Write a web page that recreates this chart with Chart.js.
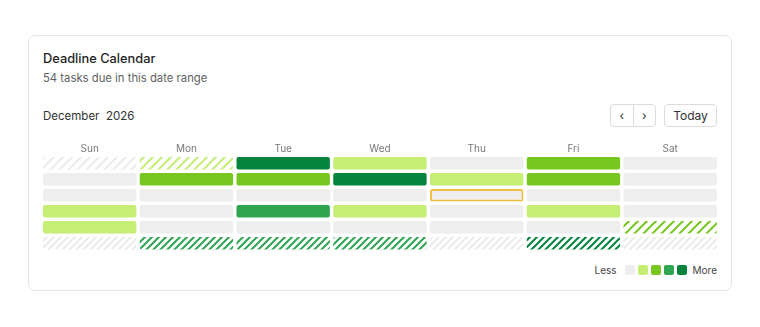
<!DOCTYPE html>
<html>
<head>
<meta charset="utf-8">
<script src="https://cdn.jsdelivr.net/npm/chart.js@4/dist/chart.umd.min.js"></script>
<style>
  html, body { margin: 0; padding: 0; background: #fff; }
  body { width: 760px; height: 327px; position: relative; font-family: Inter, "Noto Sans", sans-serif; overflow: hidden; }
  .card { position: absolute; left: 27.5px; top: 34.5px; width: 704px; height: 256px; border: 1px solid #e6e6e6; border-radius: 7px; box-sizing: border-box; }
  .title { position: absolute; left: 43px; top: 50px; font-size: 12.8px; font-weight: 500; color: #1f1f1f; line-height: 18px; }
  .sub { position: absolute; left: 43px; top: 70px; font-size: 11.3px; color: #5f5f5f; line-height: 16px; }
  .month { position: absolute; left: 43px; top: 108px; font-size: 11.5px; color: #333; line-height: 16px; white-space: pre; }
  .navgrp { position: absolute; left: 610px; top: 104px; width: 46px; height: 23px; border: 1px solid #dcdcdc; border-radius: 4px; box-sizing: border-box; display: flex; }
  .navgrp div { flex: 1; display: flex; align-items: center; justify-content: center; font-size: 12px; color: #333; }
  .navgrp div + div { border-left: 1px solid #dcdcdc; }
  .today { position: absolute; left: 664px; top: 104px; width: 53px; height: 23px; border: 1px solid #dcdcdc; border-radius: 4px; box-sizing: border-box; display: flex; align-items: center; justify-content: center; font-size: 12px; color: #333; }
  .legend { position: absolute; top: 264px; right: 43px; display: flex; align-items: center; font-size: 10px; color: #444; height: 12px; }
  .legend .sq { width: 10px; height: 10px; border-radius: 2px; margin-right: 3px; }
  .legend .sq:last-of-type { margin-right: 0; }
  .legend .lbl1 { margin-right: 8px; }
  .legend .lbl2 { margin-left: 6px; }
  #wrap { position: absolute; left: 0; top: 130px; width: 760px; height: 125px; }
</style>
</head>
<body>
<div class="card"></div>
<div class="title">Deadline Calendar</div>
<div class="sub">54 tasks due in this date range</div>
<div class="month">December  2026</div>
<div class="navgrp"><div>&#8249;</div><div>&#8250;</div></div>
<div class="today">Today</div>
<div class="legend" id="legend"></div>
<div id="wrap"><canvas id="c"></canvas></div>
<script>
const weekdays = ['Sun', 'Mon', 'Tue', 'Wed', 'Thu', 'Fri', 'Sat'];
const weekRows = [0, 1, 2, 3, 4, 5];
// intensity level of each day cell (0 = none .. 4 = most)
const levels = [
  [0, 1, 4, 1, 0, 2, 0],
  [0, 2, 2, 4, 1, 2, 0],
  [0, 0, 0, 0, 0, 0, 0],
  [1, 0, 3, 1, 0, 1, 0],
  [1, 0, 0, 0, 0, 0, 2],
  [0, 3, 3, 3, 0, 4, 0]
];
// 1 = inside the shown month, 0 = outside (hatched)
const inMonth = [
  [0, 0, 1, 1, 1, 1, 1],
  [1, 1, 1, 1, 1, 1, 1],
  [1, 1, 1, 1, 1, 1, 1],
  [1, 1, 1, 1, 1, 1, 1],
  [1, 1, 1, 1, 1, 1, 0],
  [0, 0, 0, 0, 0, 0, 0]
];
const todayRow = 2, todayCol = 4;
const levelColors = ['#eeeeee', '#c5ee75', '#77c720', '#2fa552', '#05843d'];
const hatchColors = ['#ebebeb', '#c5ee75', '#77c720', '#2fa552', '#05843d'];
const legendLabels = ['Less', 'More'];

function hatch(color, period, width) {
  const c = document.createElement('canvas');
  c.width = c.height = period;
  const x = c.getContext('2d');
  x.fillStyle = '#ffffff';
  x.fillRect(0, 0, period, period);
  x.strokeStyle = color;
  x.lineWidth = width;
  x.lineCap = 'square';
  x.beginPath();
  x.moveTo(0, period); x.lineTo(period, 0);
  x.moveTo(-period, period); x.lineTo(period, -period);
  x.moveTo(0, period * 2); x.lineTo(period * 2, 0);
  x.stroke();
  return x.createPattern(c, 'repeat');
}

// legend
const lg = document.getElementById('legend');
const l1 = document.createElement('span'); l1.className = 'lbl1'; l1.textContent = legendLabels[0]; lg.appendChild(l1);
levelColors.forEach(col => { const s = document.createElement('div'); s.className = 'sq'; s.style.background = col; lg.appendChild(s); });
const l2 = document.createElement('span'); l2.className = 'lbl2'; l2.textContent = legendLabels[1]; lg.appendChild(l2);

const gap = 0.11;
const datasets = weekRows.map(r => ({
  label: 'Week ' + (r + 1),
  data: weekdays.map(() => [r + gap, r + 1 - gap]),
  backgroundColor: weekdays.map((d, c) => inMonth[r][c]
    ? levelColors[levels[r][c]]
    : hatch(hatchColors[levels[r][c]], r === 5 ? 7 : 9, 2)),
  borderColor: weekdays.map((d, c) => (r === todayRow && c === todayCol) ? '#f5bd3f' : 'rgba(0,0,0,0)'),
  borderWidth: weekdays.map((d, c) => (r === todayRow && c === todayCol) ? 2 : 0),
  borderRadius: 2,
  borderSkipped: false,
  grouped: false,
  barPercentage: 0.965,
  categoryPercentage: 1
}));

new Chart(document.getElementById('c'), {
  type: 'bar',
  data: { labels: weekdays, datasets },
  options: {
    responsive: true,
    maintainAspectRatio: false,
    animation: false,
    events: [],
    layout: { padding: { left: 41.3, right: 41.4, top: 13.25, bottom: 3.75 } },
    plugins: { legend: { display: false }, tooltip: { enabled: false } },
    scales: {
      x: {
        position: 'top',
        grid: { display: false, drawTicks: false },
        border: { display: false },
        ticks: { color: '#777', font: { family: 'Inter', size: 10 }, padding: 0 }
      },
      y: { display: false, min: 0, max: 6, reverse: true }
    }
  }
});
</script>
</body>
</html>
